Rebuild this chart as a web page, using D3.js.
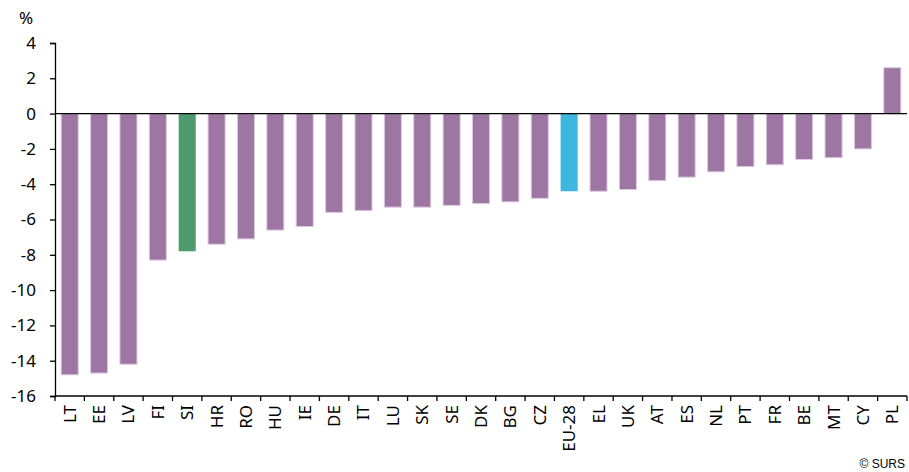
<!DOCTYPE html>
<meta charset="utf-8">
<html>
<script src="https://d3js.org/d3.v7.min.js"></script>
<style>
  body { margin: 0; background: #fff; }
  text { font-family: "Noto Sans", "Open Sans", sans-serif; }
</style>
<div id="chart"></div>
<script>

// data
var countries = ["LT","EE","LV","FI","SI","HR","RO","HU","IE","DE","IT","LU","SK","SE","DK","BG","CZ","EU-28","EL","UK","AT","ES","NL","PT","FR","BE","MT","CY","PL"];
var values = [-14.8,-14.7,-14.2,-8.3,-7.8,-7.4,-7.1,-6.6,-6.4,-5.6,-5.5,-5.3,-5.3,-5.2,-5.1,-5.0,-4.8,-4.4,-4.4,-4.3,-3.8,-3.6,-3.3,-3.0,-2.9,-2.6,-2.5,-2.0,2.6];
var yTicks = [4,2,0,-2,-4,-6,-8,-10,-12,-14,-16];

var width = 909,
    height = 472,
    mLeft = 55, mRight = 907, mTop = 43, mBottom = 396;

var purple = "#9d76a4", green = "#4f9b6e", blue = "#3db6e0";
function barColor(c) {
  if (c == "SI") return green;
  if (c == "EU-28") return blue;
  return purple;
}

var svg = d3.select("#chart")
  .append("svg")
    .attr("width", width)
    .attr("height", height);

var x = d3.scaleBand()
  .domain(countries)
  .range([mLeft, mRight])
  .paddingInner(0.42)
  .paddingOuter(0.21);

var y = d3.scaleLinear()
  .domain([-16, 4])
  .range([mBottom, mTop]);

// bars
svg.selectAll("rect.bar")
  .data(countries)
  .enter().append("rect")
    .attr("class", "bar")
    .attr("x", function(d) { return x(d); })
    .attr("width", x.bandwidth())
    .attr("y", function(d, i) { return y(Math.max(0, values[i])); })
    .attr("height", function(d, i) { return Math.abs(y(values[i]) - y(0)); })
    .attr("fill", function(d) { return barColor(d); })
    .attr("stroke", function(d) { return barColor(d) == purple ? "#dccbdf" : "none"; })
    .attr("stroke-width", 1);

// y axis
var yAxis = svg.append("g")
  .attr("transform", "translate(" + mLeft + ",0)")
  .call(d3.axisLeft(y).tickValues(yTicks).tickSize(5).tickPadding(14).tickFormat(d3.format("d")));
yAxis.select(".domain").attr("stroke", "#000").attr("stroke-width", 1.3);
yAxis.selectAll(".tick line").attr("stroke", "#000").attr("stroke-width", 1.3);
yAxis.selectAll(".tick text")
  .attr("font-size", "17px")
  .attr("fill", "#000")
  .style("font-family", "'Noto Sans', sans-serif")
  .text(function(d) { return d < 0 ? "-" + Math.abs(d) : d; });

svg.append("text")
  .attr("x", 19)
  .attr("y", 24)
  .attr("font-size", "17px")
  .text("%");

// zero line
svg.append("line")
  .attr("x1", mLeft).attr("x2", mRight)
  .attr("y1", y(0)).attr("y2", y(0))
  .attr("stroke", "#000")
  .attr("stroke-width", 1.3);

// category axis along the bottom, ticks between categories
svg.append("line")
  .attr("x1", mLeft).attr("x2", mRight)
  .attr("y1", mBottom).attr("y2", mBottom)
  .attr("stroke", "#000")
  .attr("stroke-width", 1.3);

var bounds = countries.map(function(d) { return x(d) - x.step() * x.paddingInner() / 2; });
bounds.push(mRight);
svg.selectAll("line.xtick")
  .data(bounds)
  .enter().append("line")
    .attr("class", "xtick")
    .attr("x1", function(d) { return d; }).attr("x2", function(d) { return d; })
    .attr("y1", mBottom).attr("y2", mBottom + 5)
    .attr("stroke", "#000")
    .attr("stroke-width", 1.3);

svg.selectAll("text.xlab")
  .data(countries)
  .enter().append("text")
    .attr("class", "xlab")
    .attr("transform", function(d) {
      return "translate(" + (x(d) + x.bandwidth() / 2 + 6) + "," + (mBottom + 9) + ") rotate(-90)";
    })
    .attr("text-anchor", "end")
    .attr("font-size", "17px")
    .text(function(d) { return d; });

svg.append("text")
  .attr("x", 905)
  .attr("y", 468)
  .attr("text-anchor", "end")
  .attr("font-size", "12px")
  .style("font-family", "'Liberation Sans', Arial, sans-serif")
  .text("© SURS");

</script>
</html>
